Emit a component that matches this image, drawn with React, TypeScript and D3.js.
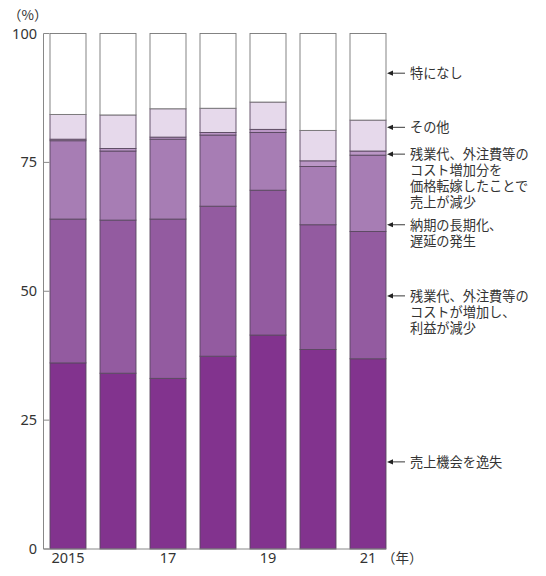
import React from "react";
import * as d3 from "d3";

const years = ["2015", "2016", "2017", "2018", "2019", "2020", "2021"];
const yearLabels = ["2015", "", "17", "", "19", "", "21"];
const yTicks = [0, 25, 50, 75, 100];

const seriesNames = [
  "売上機会を逸失",
  "残業代、外注費等のコストが増加し、利益が減少",
  "納期の長期化、遅延の発生",
  "残業代、外注費等のコスト増加分を価格転嫁したことで売上が減少",
  "その他",
  "特になし",
];
const lostSales = [36.1, 34.1, 33.1, 37.4, 41.5, 38.7, 36.9];
const profitDown = [27.9, 29.7, 30.9, 29.1, 28.1, 24.2, 24.7];
const delay = [15.2, 13.4, 15.5, 13.8, 11.2, 11.3, 14.8];
const passThrough = [0.3, 0.5, 0.4, 0.5, 0.6, 1.1, 0.8];
const other = [4.8, 6.5, 5.5, 4.7, 5.3, 5.9, 6.0];
const none = [15.7, 15.8, 14.6, 14.5, 13.3, 18.8, 16.8];
const seriesValues = [lostSales, profitDown, delay, passThrough, other, none];

const legendLines = [
  ["売上機会を逸失"],
  ["残業代、外注費等の", "コストが増加し、", "利益が減少"],
  ["納期の長期化、", "遅延の発生"],
  ["残業代、外注費等の", "コスト増加分を", "価格転嫁したことで", "売上が減少"],
  ["その他"],
  ["特になし"],
];
const legendAnchor = [16.9, 49.1, 62.9, 76.6, 81.8, 92.3];

const colors = ["#82338e", "#935ba0", "#a77db4", "#bb97c6", "#e6d9eb", "#ffffff"];

export default function App() {
  const rows = years.map((yr, i) => {
    const r: any = { year: yr };
    seriesNames.forEach((s, j) => (r[s] = seriesValues[j][i]));
    return r;
  });
  const stacked = d3.stack<any>().keys(seriesNames)(rows);

  const x = d3.scaleBand<string>().domain(years).range([43, 393]).paddingInner(0.28).paddingOuter(0.14);
  const y = d3.scaleLinear().domain([0, 100]).range([549, 33.5]);
  const axisX = 43.5;
  const lastEnd = (x(years[years.length - 1]) as number) + x.bandwidth();
  const font = "'Noto Sans CJK JP', 'Noto Sans', sans-serif";

  return (
    <svg width={546} height={576} style={{ position: "absolute", left: 0, top: 0 }} fontFamily={font}>
      {stacked.map((layer, li) =>
        layer.map((d, i) => (
          <rect
            key={li + "-" + i}
            x={x(years[i])}
            y={y(d[1])}
            width={x.bandwidth()}
            height={y(d[0]) - y(d[1])}
            fill={colors[li]}
            stroke={li === 5 ? "#777" : "#5a4860"}
            strokeWidth={0.9}
          />
        ))
      )}
      <line x1={axisX} x2={axisX} y1={y(100)} y2={y(0)} stroke="#888" strokeWidth={1} />
      <line x1={axisX} x2={lastEnd} y1={y(0)} y2={y(0)} stroke="#888" strokeWidth={1} />
      {yTicks.map((t) => (
        <g key={t}>
          <line x1={axisX} x2={axisX + 6} y1={y(t)} y2={y(t)} stroke="#888" strokeWidth={1} />
          <text x={37} y={y(t)} dy="0.35em" textAnchor="end" fontSize={14.5} fill="#333" fontFamily="'Noto Sans', sans-serif">
            {t}
          </text>
        </g>
      ))}
      <text x={8} y={20} fontSize={13.5} fill="#333">（%）</text>
      {yearLabels.map((l, i) =>
        l ? (
          <text key={i} x={(x(years[i]) as number) + x.bandwidth() / 2} y={563} textAnchor="middle" fontSize={14.5} fill="#333" fontFamily="'Noto Sans', sans-serif">
            {l}
          </text>
        ) : null
      )}
      <text x={lastEnd - 4} y={563} fontSize={13.5} fill="#333">（年）</text>
      {legendLines.map((lines, k) => {
        const ay = y(legendAnchor[k]);
        const tip = lastEnd + 1;
        return (
          <g key={k}>
            <line x1={tip + 4} x2={405} y1={ay} y2={ay} stroke="#222" strokeWidth={0.9} />
            <path d={`M${tip},${ay} L${tip + 6},${ay - 2.6} L${tip + 6},${ay + 2.6} Z`} fill="#222" />
            <text x={410} y={ay} fontSize={13.2} fill="#333">
              {lines.map((ln, j) => (
                <tspan key={j} x={410} y={ay + j * 16} dy="0.36em">
                  {ln}
                </tspan>
              ))}
            </text>
          </g>
        );
      })}
    </svg>
  );
}
